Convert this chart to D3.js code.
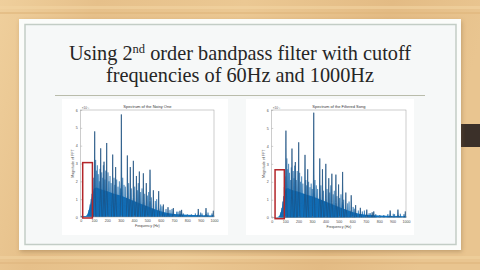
<!DOCTYPE html>
<html><head><meta charset="utf-8">
<script src="https://cdn.jsdelivr.net/npm/d3@7"></script>
<style>html,body{margin:0;padding:0;overflow:hidden;background:#e6c38e}</style>
</head><body>
<script>
// ---------- data ----------
const titleLine1 = ["Using 2", "nd", " order bandpass filter with cutoff"];
const titleLine2 = "frequencies of 60Hz and 1000Hz";
const chartTitles = ["Spectrum of the Noisy One", "Spectrum of the Filtered Song"];
const xLabel = "Frequency (Hz)";
const yLabel = "Magnitude of FFT";
const xTicks = [0,100,200,300,400,500,600,700,800,900,1000];
const yTicks = [0,1,2,3,4,5,6];
const exponentLabel = "×10⁻³";

// major harmonic peaks [Hz, magnitude ×10^-3]
const noisyPeaks = [[105,4.8],[150,3.85],[175,3.1],[195,4.15],[240,3.5],[262,2.8],[305,5.75],[350,3.45],[372,2.8],[395,3.15],[418,2.3],[440,2.55],[470,2.45],[492,1.9],[520,2.65],[545,1.5],[585,1.45],[620,0.7],[655,0.55],[695,0.5],[745,0.35],[757,0.4],[882,0.45],[940,0.5],[995,0.35]];
const filteredPeaks = [[106,4.85],[151,3.85],[176,3.1],[201,4.2],[248,3.5],[268,2.7],[313,5.85],[358,3.3],[378,2.7],[403,3.0],[425,2.2],[448,2.45],[478,2.4],[498,1.85],[528,2.55],[552,1.4],[592,1.25],[625,0.7],[660,0.55],[708,0.45],[748,0.3],[760,0.35],[882,0.4],[940,0.45],[995,0.35]];
// minor spikes [Hz, magnitude]
const noisyMinor = [[62,0.4],[70,0.7],[78,1.0],[84,1.3],[90,1.6],[97,2.2],[112,3.2],[118,2.6],[125,2.9],[132,2.4],[140,2.0],[145,2.7],[158,2.5],[165,2.2],[170,2.9],[182,2.1],[188,2.6],[205,2.5],[212,2.0],[220,2.3],[228,1.9],[250,2.2],[256,1.8],[270,2.1],[280,1.7],[290,2.0],[298,1.6],[315,2.2],[325,1.8],[335,1.7],[360,1.9],[380,1.6],[405,1.7],[425,1.5],[432,1.9],[450,1.4],[460,1.6],[480,1.3],[500,1.2],[510,1.4],[530,1.1],[560,0.9],[570,1.0],[600,0.7],[610,0.6],[640,0.45],[670,0.4],[685,0.45],[720,0.3],[730,0.3],[770,0.2],[800,0.15],[830,0.15],[860,0.2],[900,0.25],[910,0.2],[955,0.25],[985,0.2]];
const filteredMinor = [[68,0.3],[75,0.55],[82,0.9],[88,1.2],[94,1.7],[99,2.3],[113,3.3],[119,2.7],[126,3.0],[133,2.5],[141,2.1],[146,2.8],[160,2.6],[166,2.2],[171,2.9],[183,2.1],[190,2.6],[208,2.5],[215,2.0],[223,2.3],[232,1.9],[254,2.1],[260,1.8],[275,2.0],[285,1.7],[294,1.9],[302,1.6],[322,2.1],[332,1.8],[342,1.6],[366,1.8],[386,1.5],[412,1.6],[432,1.4],[440,1.8],[458,1.3],[466,1.5],[486,1.2],[506,1.1],[516,1.3],[536,1.0],[566,0.8],[576,0.9],[606,0.6],[615,0.5],[645,0.4],[675,0.35],[690,0.4],[725,0.25],[735,0.25],[775,0.2],[805,0.15],[835,0.15],[865,0.2],[905,0.22],[915,0.2],[958,0.22],[985,0.2]];
// noise floor envelope [Hz, magnitude]
const noisyFloor = [[0,0.05],[40,0.06],[50,0.15],[60,0.35],[70,0.65],[80,1.0],[90,1.35],[100,1.6],[120,1.65],[150,1.55],[200,1.45],[250,1.3],[300,1.2],[350,1.05],[400,0.9],[450,0.75],[500,0.6],[550,0.45],[600,0.32],[650,0.22],[700,0.17],[800,0.12],[900,0.1],[1000,0.08]];
const filteredFloor = [[0,0.0],[40,0.02],[55,0.08],[65,0.25],[75,0.5],[85,0.9],[95,1.3],[105,1.6],[120,1.65],[150,1.55],[200,1.45],[250,1.3],[300,1.2],[350,1.05],[400,0.9],[450,0.75],[500,0.6],[550,0.45],[600,0.32],[650,0.22],[700,0.17],[800,0.12],[900,0.1],[1000,0.08]];
// highlighted region [Hz from, Hz to, magnitude top]
const highlightNoisy = [15, 88, 3.05];
const highlightFiltered = [25, 94, 2.67];

// ---------- drawing ----------
const W = 480, H = 270;
const svg = d3.select("body").append("svg").attr("width", W).attr("height", H);
const defs = svg.append("defs");
const wood = defs.append("linearGradient").attr("id","wood").attr("x1",0).attr("y1",0).attr("x2",1).attr("y2",0.15);
[["0%","#efcf9c"],["20%","#e6c08a"],["50%","#ebc893"],["80%","#e3bb84"],["100%","#e9c590"]].forEach(s=>wood.append("stop").attr("offset",s[0]).attr("stop-color",s[1]));
svg.append("rect").attr("width",W).attr("height",H).attr("fill","url(#wood)");
[[6,"#f2d3a2",3],[12,"#e0b57c",2],[256,"#f0d2a0",3],[262,"#dfb57e",2]].forEach(s=>svg.append("rect").attr("x",0).attr("y",s[0]).attr("width",W).attr("height",s[2]).attr("fill",s[1]).attr("opacity",0.6));

// dark tab
svg.append("rect").attr("x",450).attr("y",124).attr("width",30).attr("height",23).attr("fill","#3b3029");

// panel
const shadow = defs.append("filter").attr("id","sh").attr("x","-5%").attr("y","-5%").attr("width","110%").attr("height","115%");
shadow.append("feDropShadow").attr("dx",1).attr("dy",2).attr("stdDeviation",2).attr("flood-color","#7a5a30").attr("flood-opacity",0.35);
svg.append("rect").attr("x",19).attr("y",19).attr("width",442).attr("height",231).attr("fill","#fbfcfa").attr("filter","url(#sh)");
svg.append("rect").attr("x",25).attr("y",24.5).attr("width",431).attr("height",220).attr("fill","#f6f8f8").attr("stroke","#c3cdc6").attr("stroke-width",1.5);

// slide title
const serif = "Liberation Serif, Times New Roman, serif";
const t1 = svg.append("text").attr("x",240).attr("y",60).attr("text-anchor","middle")
  .attr("font-family",serif).attr("font-size",20.3).attr("fill","#262626");
t1.append("tspan").text(titleLine1[0]);
t1.append("tspan").attr("font-size",12.5).attr("dy",-7.5).text(titleLine1[1]);
t1.append("tspan").attr("dy",7.5).text(titleLine1[2]);
svg.append("text").attr("x",240).attr("y",82).attr("text-anchor","middle")
  .attr("font-family",serif).attr("font-size",20.3).attr("fill","#262626").text(titleLine2);
svg.append("line").attr("x1",55).attr("x2",425).attr("y1",95.5).attr("y2",95.5).attr("stroke","#b9bcab").attr("stroke-width",1);

function drawChart(cfg){
  const g = svg.append("g");
  g.append("rect").attr("x",cfg.bg[0]).attr("y",cfg.bg[1]).attr("width",cfg.bg[2]).attr("height",cfg.bg[3]).attr("fill","#ffffff");
  const x = d3.scaleLinear().domain([0,1000]).range([cfg.left, cfg.right]);
  const y = d3.scaleLinear().domain([0,6]).range([cfg.bottom, cfg.top]);
  const clip = "clip"+cfg.id;
  defs.append("clipPath").attr("id",clip).append("rect").attr("x",cfg.left).attr("y",cfg.top).attr("width",cfg.right-cfg.left).attr("height",cfg.bottom-cfg.top);
  const plot = g.append("g").attr("clip-path",`url(#${clip})`);
  const area = d3.area().x(d=>x(d[0])).y0(y(0)).y1(d=>y(d[1]));
  plot.append("path").datum(cfg.floor).attr("d",area).attr("fill","#0c74c4");
  const spike = d3.line().x(d=>x(d[0])).y(d=>y(d[1]));
  const spikeShape = d => spike([[d[0]-9,0],[d[0]-2.5,d[1]*0.35],[d[0],d[1]],[d[0]+2.5,d[1]*0.35],[d[0]+9,0]]);
  plot.selectAll(".mn").data(cfg.minor).join("path").attr("d",spikeShape)
    .attr("fill","#0c74c4").attr("stroke","#1a68a8").attr("stroke-width",0.5);
  plot.selectAll(".mj").data(cfg.peaks).join("path").attr("d",spikeShape)
    .attr("fill","#0c74c4").attr("stroke","#1d4f7e").attr("stroke-width",0.7);
  g.append("rect").attr("x",cfg.left).attr("y",cfg.top).attr("width",cfg.right-cfg.left).attr("height",cfg.bottom-cfg.top)
    .attr("fill","none").attr("stroke","#9a9a9a").attr("stroke-width",0.5);
  const fs = 3.6;
  const xa = g.append("g").attr("transform",`translate(0,${cfg.bottom})`).call(d3.axisBottom(x).tickValues(xTicks).tickFormat(d3.format("d")).tickSize(-1.5).tickPadding(2.5));
  const ya = g.append("g").attr("transform",`translate(${cfg.left},0)`).call(d3.axisLeft(y).tickValues(yTicks).tickFormat(d3.format("d")).tickSize(-1.5).tickPadding(3));
  [xa,ya].forEach(a=>{a.select(".domain").remove(); a.selectAll("line").attr("stroke","#8a8a8a").attr("stroke-width",0.4);
    a.selectAll("text").attr("font-size",fs).attr("font-family","Liberation Sans, Arial, sans-serif").attr("fill","#4a4a4a");});
  g.append("text").attr("x",(cfg.left+cfg.right)/2).attr("y",cfg.top-2).attr("text-anchor","middle")
    .attr("font-size",4).attr("font-family","Liberation Sans, Arial, sans-serif").attr("fill","#333").text(cfg.title);
  g.append("text").attr("x",cfg.left+1).attr("y",cfg.top-1.5)
    .attr("font-size",3.2).attr("font-family","Liberation Sans, Arial, sans-serif").attr("fill","#555").text(exponentLabel);
  g.append("text").attr("x",(cfg.left+cfg.right)/2).attr("y",cfg.bottom+10).attr("text-anchor","middle")
    .attr("font-size",fs).attr("font-family","Liberation Sans, Arial, sans-serif").attr("fill","#444").text(xLabel);
  g.append("text").attr("transform",`translate(${cfg.left-7},${(cfg.top+cfg.bottom)/2}) rotate(-90)`).attr("text-anchor","middle")
    .attr("font-size",fs).attr("font-family","Liberation Sans, Arial, sans-serif").attr("fill","#444").text(yLabel);
  const hl = cfg.hl;
  g.append("rect").attr("x",x(hl[0])).attr("y",y(hl[2])).attr("width",x(hl[1])-x(hl[0])).attr("height",y(0)-y(hl[2])+1)
    .attr("fill","none").attr("stroke","#b3262a").attr("stroke-width",1.5);
}
drawChart({id:"a", left:80.7, right:214, top:110, bottom:217, bg:[62,99,166,136], floor:noisyFloor, peaks:noisyPeaks, minor:noisyMinor, title:chartTitles[0], hl:highlightNoisy});
drawChart({id:"b", left:271.7, right:406, top:110, bottom:217.7, bg:[246,99,168,136], floor:filteredFloor, peaks:filteredPeaks, minor:filteredMinor, title:chartTitles[1], hl:highlightFiltered});
</script>
</body></html>
